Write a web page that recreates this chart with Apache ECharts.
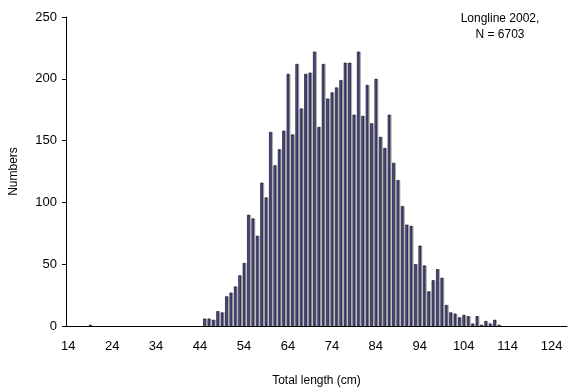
<!DOCTYPE html>
<html lang="en">
<head>
    <meta charset="UTF-8">
    <title>Longline 2002 length frequency</title>
    <script src="https://cdn.jsdelivr.net/npm/echarts@6/dist/echarts.min.js"></script>
    <style>
        body { margin: 0; background: #fff; }
    </style>
</head>
<body>
    <div id="chart" style="width:572px;height:392px;"></div>
<script>
    // length classes 14..127 cm
    var lengths = [];
    for (var l = 14; l <= 127; l++) lengths.push(String(l));

    // counts, keyed by length
    var countsByLength = {
        19: 1,
        45: 6, 46: 6, 47: 5, 48: 12, 49: 11, 50: 24, 51: 27, 52: 32, 53: 41, 54: 51,
        55: 90, 56: 87, 57: 73, 58: 116, 59: 104, 60: 157, 61: 130, 62: 143, 63: 158, 64: 204,
        65: 155, 66: 212, 67: 176, 68: 204, 69: 205, 70: 222, 71: 161, 72: 212, 73: 184, 74: 189,
        75: 193, 76: 199, 77: 213, 78: 213, 79: 171, 80: 222, 81: 170, 82: 195, 83: 164, 84: 200,
        85: 153, 86: 144, 87: 171, 88: 132, 89: 118, 90: 97, 91: 82, 92: 81, 93: 50, 94: 65,
        95: 49, 96: 28, 97: 37, 98: 46, 99: 39, 100: 17, 101: 11, 102: 10, 103: 7, 104: 9,
        105: 8, 106: 2, 107: 8, 108: 1, 109: 4, 110: 2, 111: 5, 112: 1
    };

    // empty classes get no bar at all
    var counts = lengths.map(function (l) {
        return countsByLength[l] ? countsByLength[l] : '-';
    });

    var FONT = 'Liberation Sans, Arial, sans-serif';

    var chart = echarts.init(document.getElementById('chart'));

    var option = {
        backgroundColor: '#ffffff',
        animation: false,
        grid: {
            left: 63,
            right: 5,
            top: 17,
            bottom: 60
        },
        graphic: [{
            type: 'text',
            x: 500,
            y: 11,
            style: {
                text: 'Longline 2002,\nN = 6703',
                textAlign: 'center',
                font: '12px ' + FONT,
                fill: '#000',
                lineHeight: 16
            }
        }],
        xAxis: {
            type: 'category',
            data: lengths,
            boundaryGap: true,
            name: 'Total length (cm)',
            nameLocation: 'middle',
            nameGap: 49,
            nameTextStyle: { fontFamily: FONT, fontSize: 12, color: '#000' },
            axisLine: { lineStyle: { color: '#000', width: 1 } },
            axisTick: { interval: 4, length: 4, lineStyle: { color: '#000' } },
            axisLabel: { interval: 9, margin: 14, fontFamily: FONT, fontSize: 13, color: '#000' },
            splitLine: { show: false }
        },
        yAxis: {
            type: 'value',
            min: 0,
            max: 250,
            interval: 50,
            name: 'Numbers',
            nameLocation: 'middle',
            nameGap: 46,
            nameRotate: 90,
            nameTextStyle: { fontFamily: FONT, fontSize: 12, color: '#000' },
            axisLine: { show: true, lineStyle: { color: '#000', width: 1 } },
            axisTick: { show: true, length: 4, lineStyle: { color: '#000' } },
            axisLabel: { margin: 9, fontFamily: FONT, fontSize: 13, color: '#000' },
            splitLine: { show: false }
        },
        series: [{
            name: 'Numbers',
            type: 'bar',
            data: counts,
            barWidth: 2.6,
            itemStyle: {
                color: '#5a5aa8',
                borderColor: '#111122',
                borderWidth: 0.7,
                shadowColor: 'rgba(0,0,0,0.28)',
                shadowOffsetX: 1.3,
                shadowOffsetY: 0,
                shadowBlur: 0
            }
        }]
    };

    chart.setOption(option);
</script>
</body>
</html>
